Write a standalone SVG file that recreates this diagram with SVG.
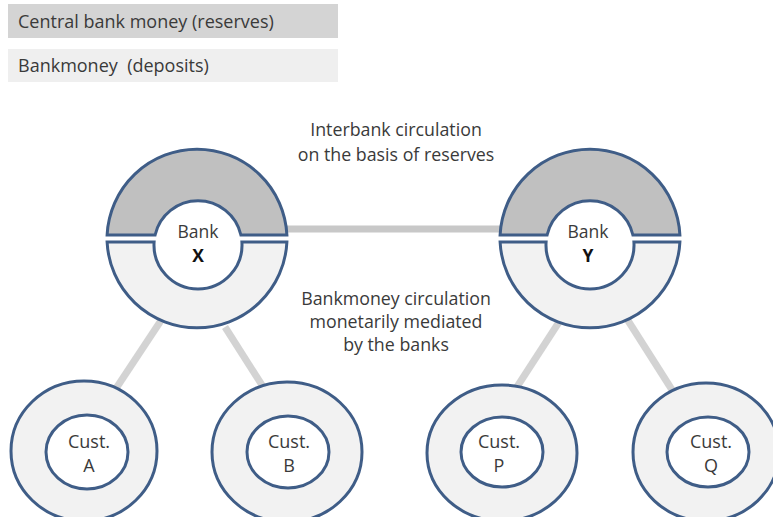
<svg xmlns="http://www.w3.org/2000/svg" width="773" height="517" viewBox="0 0 773 517">
<style>
text{font-family:"Open Sans","Liberation Sans",sans-serif;fill:#3a3a3a}
.lg{font-size:18px;white-space:pre}
.mid{font-size:17.8px;text-anchor:middle}
.lbl{font-size:17.5px;text-anchor:middle}
.cu{font-size:18px;text-anchor:middle}
.b{font-weight:bold;fill:#111}
.ring{stroke:#3f5d87;stroke-width:3}
.dark{fill:#c0c0c0}
.light{fill:#f2f2f2}
.hole{fill:#fff;stroke:#3f5d87;stroke-width:3}
.conn{stroke:#d3d3d3;stroke-width:7;fill:none}
</style>
<rect width="773" height="517" fill="#fff"/>
<g id="legend">
<rect x="8" y="4" width="330" height="34" fill="#d4d4d4"/>
<text class="lg" x="18" y="28">Central bank money (reserves)</text>
<rect x="8" y="49" width="330" height="33" fill="#efefef"/>
<text class="lg" x="18" y="72" xml:space="preserve">Bankmoney  (deposits)</text>
</g>
<g id="connectors">
<line class="conn" x1="280" y1="229" x2="510" y2="229" style="stroke:#c8c8c8"/>
<line class="conn" x1="162" y1="319" x2="113" y2="393"/>
<line class="conn" x1="225" y1="327" x2="267" y2="393"/>
<line class="conn" x1="561" y1="319" x2="513" y2="393"/>
<line class="conn" x1="627" y1="319" x2="674" y2="393"/>
</g>
<g id="labels">
<text class="mid" x="396" y="136">Interbank circulation</text>
<text class="mid" x="396" y="161">on the basis of reserves</text>
<text class="mid" x="396" y="305">Bankmoney circulation</text>
<text class="mid" x="396" y="328">monetarily mediated</text>
<text class="mid" x="396" y="351">by the banks</text>
</g>
<g id="bankX">
<path class="ring dark" d="M107.1 235 A90 90 0 0 1 286.9 235 L240.9 235 A44 44 0 0 0 155.1 235 Z"/>
<path class="ring light" d="M107.1 242 A90 90 0 0 0 286.9 242 L241.9 242 A44 44 0 1 1 154.1 242 Z"/>
<text class="lbl" x="198" y="238">Bank</text>
<text class="lbl b" x="198" y="262">X</text>
</g>
<g id="bankY">
<path class="ring dark" d="M500.1 235 A90 90 0 0 1 679.9 235 L632.9 235 A44 44 0 0 0 547.1 235 Z"/>
<path class="ring light" d="M500.1 242 A90 90 0 0 0 679.9 242 L633.9 242 A44 44 0 1 1 546.1 242 Z"/>
<text class="lbl" x="588" y="238">Bank</text>
<text class="lbl b" x="588" y="262">Y</text>
</g>
<g id="custA">
<ellipse class="ring light" cx="84" cy="451" rx="73" ry="70"/>
<ellipse class="hole" cx="87" cy="452" rx="41" ry="37"/>
<text class="cu" x="89" y="448">Cust.</text>
<text class="cu" x="89" y="472">A</text>
</g>
<g id="custB">
<ellipse class="ring light" cx="287" cy="452" rx="75" ry="70"/>
<ellipse class="hole" cx="288" cy="452" rx="41" ry="36"/>
<text class="cu" x="289" y="448">Cust.</text>
<text class="cu" x="289" y="472">B</text>
</g>
<g id="custP">
<ellipse class="ring light" cx="502" cy="453" rx="75" ry="68"/>
<ellipse class="hole" cx="502" cy="452" rx="41" ry="35"/>
<text class="cu" x="499" y="448">Cust.</text>
<text class="cu" x="499" y="472">P</text>
</g>
<g id="custQ">
<ellipse class="ring light" cx="706" cy="452" rx="73" ry="69"/>
<ellipse class="hole" cx="708" cy="452" rx="41" ry="35"/>
<text class="cu" x="711" y="448">Cust.</text>
<text class="cu" x="711" y="472">Q</text>
</g>
</svg>
